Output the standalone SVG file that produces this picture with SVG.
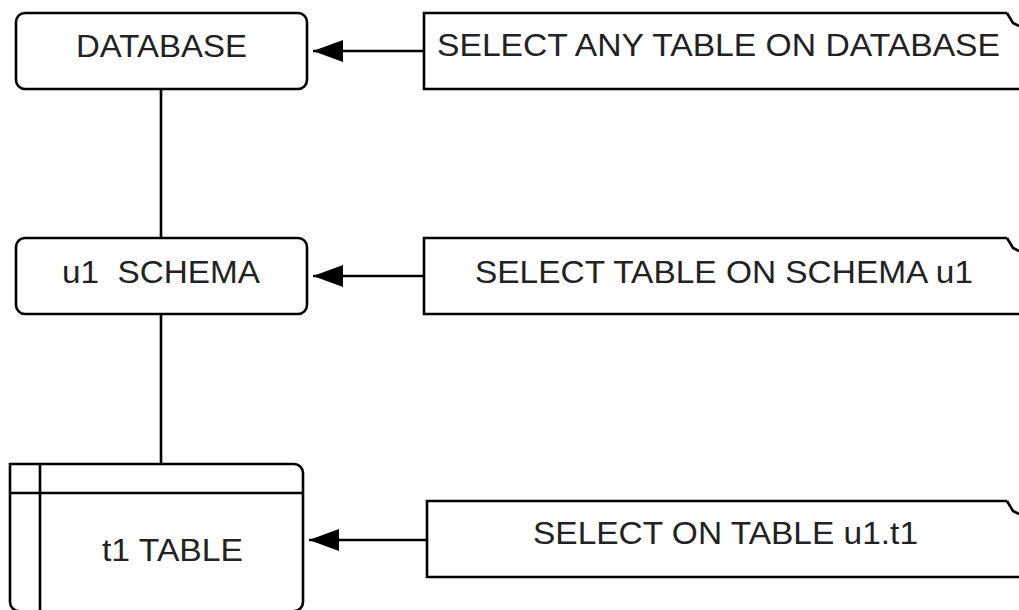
<svg xmlns="http://www.w3.org/2000/svg" width="1019" height="610" viewBox="0 0 1019 610">
<defs>
<style>
.box{fill:#fff;stroke:#000;stroke-width:2.6}
.ln{fill:none;stroke:#000;stroke-width:2.6}
.t{font-family:"Liberation Sans",Arial,sans-serif;font-size:31px;fill:#222;text-anchor:middle}
</style>
<marker id="ah" viewBox="0 0 30 22" refX="30" refY="11" markerWidth="30" markerHeight="22" markerUnits="userSpaceOnUse" orient="auto">
<path d="M0,0 L30,11 L0,22 Z" fill="#000"/>
</marker>
</defs>
<rect width="1019" height="610" fill="#fff"/>
<g id="connectors">
<path class="ln" d="M161,89 V238"/>
<path class="ln" d="M161,314 V464"/>
<path class="ln" d="M424,51 H313" marker-end="url(#ah)"/>
<path class="ln" d="M424,276 H313" marker-end="url(#ah)"/>
<path class="ln" d="M427,540 H309" marker-end="url(#ah)"/>
</g>
<g id="database">
<rect class="box" x="16" y="13" width="291" height="76" rx="9"/>
<text class="t" x="161.5" y="57" textLength="171" lengthAdjust="spacingAndGlyphs">DATABASE</text>
</g>
<g id="schema">
<rect class="box" x="16" y="238" width="291" height="76" rx="9"/>
<text class="t" x="161" y="283" textLength="198" lengthAdjust="spacingAndGlyphs" xml:space="preserve">u1  SCHEMA</text>
</g>
<g id="table">
<path class="box" d="M19,611 A9,9 0 0 1 10,602 V464 H294 A9,9 0 0 1 303,473 V602 A9,9 0 0 1 294,611"/>
<path class="ln" d="M10,493 H303 M40,464 V610"/>
<text class="t" x="172.5" y="561" textLength="141" lengthAdjust="spacingAndGlyphs">t1 TABLE</text>
</g>
<g id="note1">
<path class="box" d="M1030,89 H424 V13 H1007"/>
<path class="ln" d="M1007,13 L1013,23 L1019,26"/>
<text class="t" x="718.5" y="56" textLength="563" lengthAdjust="spacingAndGlyphs">SELECT ANY TABLE ON DATABASE</text>
</g>
<g id="note2">
<path class="box" d="M1030,314 H424 V238 H1007"/>
<path class="ln" d="M1007,238 L1013,248 L1019,251"/>
<text class="t" x="724" y="283" textLength="498" lengthAdjust="spacingAndGlyphs">SELECT TABLE ON SCHEMA u1</text>
</g>
<g id="note3">
<path class="box" d="M1030,577 H427 V501 H1007"/>
<path class="ln" d="M1007,501 L1013,511 L1019,514"/>
<text class="t" x="725.5" y="544" textLength="385" lengthAdjust="spacingAndGlyphs">SELECT ON TABLE u1.t1</text>
</g>
</svg>
